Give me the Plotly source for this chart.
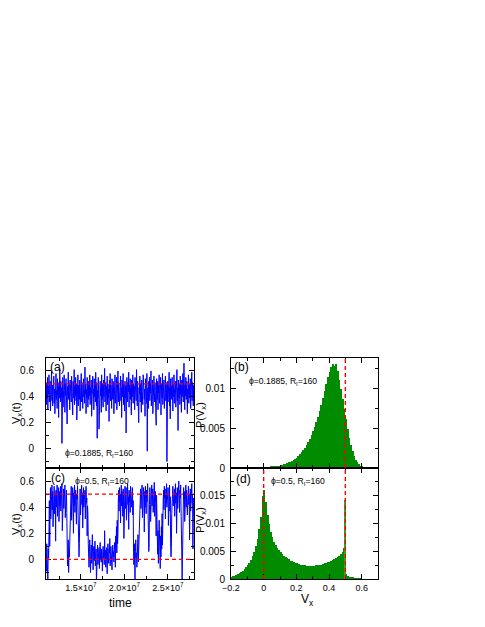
import plotly.graph_objects as go

W, H = 485, 627

# ---- data ----
# (a) phi=0.1885 : Vx(t)
vx_a = [
    0.46, 0.34, 0.51, 0.39, 0.55, 0.30, 0.48, 0.42, 0.57, 0.36, 0.44, 0.52, 0.29, 0.47, 0.40, 0.60, 0.37, 0.49, 0.33, 0.53,
    0.41, 0.56, 0.35, 0.46, 0.27, 0.50, 0.43, 0.58, 0.38, 0.45, 0.31, 0.54, 0.42, 0.48, 0.24, 0.51, 0.39, 0.62, 0.44, 0.36,
    0.52, 0.40, 0.47, 0.04, 0.43, 0.55, 0.32, 0.49, 0.37, 0.57, 0.45, 0.28, 0.50, 0.41, 0.54, 0.35, 0.46, 0.19, 0.48, 0.42,
    0.59, 0.38, 0.51, 0.44, 0.30, 0.53, 0.40, 0.47, 0.36, 0.56, 0.43, 0.49, 0.26, 0.52, 0.39, 0.45, 0.61, 0.34, 0.48, 0.41,
    0.55, 0.37, 0.50, 0.22, 0.46, 0.42, 0.57, 0.33, 0.49, 0.44, 0.38, 0.53, 0.29, 0.47, 0.41, 0.58, 0.36, 0.51, 0.43, 0.31,
    0.48, 0.54, 0.40, 0.45, 0.35, 0.63, 0.42, 0.50, 0.27, 0.46, 0.39, 0.55, 0.44, 0.32, 0.52, 0.38, 0.49, 0.41, 0.57, 0.34,
    0.47, 0.43, 0.53, 0.25, 0.50, 0.37, 0.56, 0.42, 0.46, 0.30, 0.54, 0.40, 0.48, 0.36, 0.59, 0.44, 0.33, 0.51, 0.08, 0.45,
    0.39, 0.55, 0.43, 0.15, 0.49, 0.35, 0.52, 0.41, 0.46, 0.28, 0.57, 0.38, 0.50, 0.44, 0.32, 0.53, 0.40, 0.47, 0.62, 0.36,
    0.45, 0.51, 0.29, 0.48, 0.42, 0.56, 0.34, 0.50, 0.39, 0.46, 0.21, 0.53, 0.43, 0.58, 0.37, 0.49, 0.41, 0.31, 0.54, 0.44,
    0.38, 0.52, 0.46, 0.27, 0.50, 0.40, 0.57, 0.35, 0.48, 0.43, 0.55, 0.30, 0.47, 0.41, 0.60, 0.36, 0.51, 0.44, 0.33, 0.49,
    0.42, 0.56, 0.37, 0.47, 0.24, 0.53, 0.40, 0.45, 0.58, 0.34, 0.50, 0.43, 0.29, 0.52, 0.39, 0.48, 0.12, 0.46, 0.55, 0.41,
    0.36, 0.51, 0.44, 0.59, 0.32, 0.49, 0.42, 0.54, 0.38, 0.47, 0.26, 0.53, 0.45, 0.40, 0.57, 0.35, 0.50, 0.43, 0.48, 0.30,
    0.55, 0.41, 0.46, 0.37, 0.61, 0.44, 0.33, 0.52, 0.39, 0.49, 0.20, 0.47, 0.42, 0.56, 0.36, 0.50, 0.45, 0.28, 0.53, 0.40,
    0.48, 0.34, 0.57, 0.43, 0.51, 0.38, 0.46, 0.25, 0.54, 0.41, 0.49, 0.35, 0.58, -0.02, 0.44, 0.47, 0.31, 0.52, 0.40, 0.55,
    0.37, 0.50, 0.43, 0.60, 0.33, 0.48, 0.42, 0.53, 0.27, 0.46, 0.39, 0.56, 0.44, 0.36, 0.51, 0.41, 0.47, 0.18, 0.54, 0.45,
    0.38, 0.52, 0.30, 0.49, 0.43, 0.57, 0.35, 0.47, 0.41, 0.55, 0.26, 0.50, 0.44, 0.39, 0.58, 0.34, 0.48, 0.42, 0.53, 0.31,
    0.46, 0.40, 0.56, 0.37, 0.51, 0.43, -0.10, 0.45, 0.52, 0.36, 0.49, 0.41, 0.59, 0.33, 0.47, 0.23, 0.54, 0.42, 0.48, 0.38,
    0.55, 0.44, 0.29, 0.50, 0.40, 0.57, 0.35, 0.46, 0.43, 0.52, 0.32, 0.49, 0.41, 0.61, 0.37, 0.47, 0.14, 0.53, 0.45, 0.39,
    0.50, 0.34, 0.56, 0.42, 0.48, 0.28, 0.53, 0.40, 0.45, 0.58, 0.36, 0.51, 0.66, 0.43, 0.30, 0.49, 0.41, 0.55, 0.38, 0.47,
    0.52, 0.27, 0.46, 0.42, 0.57, 0.35, 0.50, 0.44, 0.39, 0.54, 0.31, 0.48, 0.43, 0.59, 0.37, 0.51, 0.45, 0.33, 0.49, 0.41,
]

# (c) phi=0.5 : Vx(t), switching between ~0 and ~0.5
vx_c = [
    0.03, -0.09, 0.12, -0.02, 0.06, -0.17, 0.08, 0.01, 0.20, 0.45, 0.10,
    0.42, 0.55, 0.31, 0.50, 0.46, 0.57, 0.38, 0.52, 0.25, 0.48, 0.44, 0.56, 0.35, 0.51, 0.47, 0.14, 0.53, 0.40, 0.49, 0.57,
    0.33, 0.50, 0.45, 0.55, 0.29, 0.47, 0.52, 0.41, 0.56, 0.37, 0.49, 0.43, 0.58, 0.22, 0.51, 0.46, 0.54, 0.39, 0.48, 0.44,
    0.57, 0.32, 0.50, 0.45, 0.53, 0.36,
    0.10, -0.05, 0.04, 0.15, -0.10, 0.06, 0.02, 0.18,
    0.38, 0.52, 0.46, 0.56, 0.30, 0.49, 0.43, 0.55, 0.47, 0.20, 0.51, 0.41, 0.57, 0.36, 0.48, 0.53, 0.44, 0.27, 0.50, 0.46,
    0.56, 0.39, 0.52, 0.08, 0.02, 0.12, 0.45, 0.54, 0.34, 0.49, 0.47, 0.57, 0.42, 0.51, 0.24, 0.48, 0.55, 0.40, 0.50, 0.45,
    0.53, 0.31, 0.49, 0.56, 0.43, 0.47, 0.18, 0.41, 0.35,
    0.12, 0.03, -0.06, 0.08, 0.15, 0.01, -0.10, 0.05, 0.11, -0.03, 0.07, 0.19, 0.02, -0.08, 0.06, 0.10, -0.01, 0.04, 0.14, -0.05,
    0.03, 0.08, -0.18, 0.06, 0.01, 0.11, -0.04, 0.05, 0.02, 0.09, -0.07, 0.04, 0.13, 0.00, 0.06, -0.02, 0.08, 0.03, -0.09, 0.05,
    0.10, 0.01, 0.06, -0.04, 0.22, 0.03, 0.07, -0.06, 0.02, 0.09, 0.04, -0.11, 0.06, 0.12, 0.01, -0.03, 0.08, 0.05, 0.16, -0.05,
    0.03, 0.10, 0.00, 0.07, -0.08, 0.04, 0.11, 0.02, 0.06, -0.02, 0.09, 0.13, 0.04, -0.06, 0.18, 0.08, 0.25, 0.05, 0.30, 0.12,
    0.20,
    0.46, 0.53, 0.37, 0.55, 0.44, 0.50, 0.28, 0.48, 0.57, 0.41, 0.52, 0.45, 0.33, 0.54, 0.47, 0.16, 0.50, 0.43, 0.56, 0.39,
    0.49, 0.55, 0.30, 0.51, 0.46, 0.58, 0.42, 0.48, 0.23, 0.53, 0.44, 0.50, 0.36, 0.56, 0.47, 0.52, 0.40, 0.49, 0.55, 0.34,
    0.45,
    0.08, -0.04, 0.12, 0.02, -0.16, 0.06, 0.15, 0.01, 0.05, -0.06, 0.10, 0.03, 0.19, -0.02, 0.07, 0.04, 0.14, 0.28,
    0.47, 0.54, 0.39, 0.51, 0.45, 0.57, 0.32, 0.49, 0.43, 0.55, 0.48, 0.21, 0.52, 0.40, 0.56, 0.46, 0.35, 0.53, 0.44, 0.50,
    0.58, 0.38, 0.47, 0.06, 0.10, 0.42, 0.55, 0.49, 0.29, 0.51, 0.45, 0.57, 0.41, 0.48, 0.54, 0.36, 0.50, 0.44, 0.59, 0.33,
    0.47, 0.52, 0.43, 0.18, 0.49, 0.40,
    0.15, 0.04, 0.22, -0.03, 0.10, 0.30, 0.06, 0.12, -0.07, 0.18, 0.02, 0.25, 0.08, 0.35, 0.11, 0.28,
    0.45, 0.53, 0.38, 0.56, 0.47, 0.50, 0.31, 0.54, 0.43, 0.58, 0.40, 0.49, 0.46, 0.55, 0.26, 0.51, 0.44, 0.57, 0.37, 0.48,
    0.12, 0.02, 0.09, 0.35, 0.52, 0.45, 0.56, 0.41, 0.50, 0.47, 0.54, 0.33, 0.49, 0.58, 0.43, 0.51, 0.20, 0.46, 0.55, 0.39,
    0.52, 0.44, 0.60, 0.48, 0.36, 0.53, 0.47, 0.57, 0.42, 0.50, 0.05, -0.16, 0.10, 0.01, 0.38, 0.55, 0.46, 0.52, 0.29, 0.49,
    0.44, 0.57, 0.40, 0.53, 0.48, 0.34, 0.51, 0.45, 0.56, 0.42, 0.50, 0.15, 0.47, 0.54, 0.37, 0.52, 0.46, 0.58, 0.43, 0.49,
    0.08, 0.30, 0.47, 0.41,
]
t_start, t_end = 1.1e7, 2.8e7
time_ticks = [1.5e7, 2.0e7, 2.5e7]
time_tick_text = ["1.5×10<sup>7</sup>", "2.0×10<sup>7</sup>", "2.5×10<sup>7</sup>"]

# histograms, bins 0.01 wide starting at -0.2
bin_first = -0.195
bin_width = 0.01
p_b = [
    0, 0, 0, 0, 0, 0, 0, 0, 0, 0, 0, 0, 0, 0, 0,
    0.00001, 0.00002, 0.00003, 0.00004, 0.00005,
    0.00006, 0.00008, 0.0001, 0.00012, 0.00014,
    0.00017, 0.0002, 0.00023, 0.00027, 0.00031,
    0.00036, 0.00041, 0.00047, 0.00054, 0.00062,
    0.0007, 0.0008, 0.0009, 0.00102, 0.00115,
    0.0013, 0.0015, 0.0017, 0.00195, 0.0022,
    0.0025, 0.0029, 0.0033, 0.0037, 0.0042,
    0.0047, 0.0052, 0.0058, 0.0064, 0.0071,
    0.0079, 0.0088, 0.0097, 0.0106, 0.0114,
    0.0121, 0.0127, 0.0131, 0.0128, 0.0130,
    0.0122, 0.0111, 0.0099, 0.0086, 0.0074,
    0.0061, 0.0049, 0.0038, 0.0029, 0.0021,
    0.0015, 0.001, 0.0007, 0.00045, 0.0003,
    0.0002, 0.00012, 0.00008, 0.00005, 0.00003,
    0.00002, 0.00001, 0, 0, 0,
]
p_d = [
    0.0003, 0.0005, 0.0006, 0.0008, 0.0009,
    0.0011, 0.0013, 0.0015, 0.0018, 0.0021,
    0.0025, 0.0029, 0.0034, 0.0041, 0.0049,
    0.0059, 0.0072, 0.0089, 0.0112, 0.0148,
    0.0159, 0.0138, 0.0115, 0.0098, 0.0085,
    0.0075, 0.0067, 0.0061, 0.0056, 0.0052,
    0.0048, 0.0045, 0.0042, 0.0040, 0.0037,
    0.0035, 0.0033, 0.0032, 0.0030, 0.0029,
    0.0028, 0.0027, 0.0026, 0.0026, 0.0025,
    0.0025, 0.0024, 0.0024, 0.0024, 0.0024,
    0.0024, 0.0024, 0.0025, 0.0025, 0.0026,
    0.0026, 0.0027, 0.0028, 0.0029, 0.0030,
    0.0031, 0.0032, 0.0034, 0.0035, 0.0037,
    0.0039, 0.0042, 0.0045, 0.0049, 0.0056,
    0.0009, 0.0006, 0.0004, 0.0003, 0.0002,
    0.00012, 0.00008, 0.00005, 0.00003, 0.00002,
    0, 0, 0, 0, 0, 0, 0, 0, 0, 0,
]
spike_x = [0.5]
spike_p = [0.0141]

ref_a = [0.5]
ref_c = [0.0, 0.5]
ref_b = [0.5]
ref_d = [0.0, 0.5]

BLUE = "rgb(0,0,255)"
GREEN = "#008b00"
RED = "rgb(255,0,0)"
FONT = "Liberation Sans, Arial, sans-serif"
OFF = 8  # page body margin


def px(x):
    return (x - OFF) / W


def py(y):
    return 1 - (y - OFF) / H


XL = [px(46), px(194)]
XR = [px(231), px(378)]
YT = [py(468), py(358)]
YB = [py(579), py(468)]

fig = go.Figure()

fig.add_trace(go.Scatter(y=vx_a, x0=t_start, dx=(t_end - t_start) / (len(vx_a) - 1),
                         mode="lines", line=dict(color=BLUE, width=1),
                         xaxis="x", yaxis="y", showlegend=False))
fig.add_trace(go.Bar(y=p_b, x0=bin_first, dx=bin_width, width=bin_width,
                     marker=dict(color=GREEN, line=dict(width=0)),
                     xaxis="x2", yaxis="y2", showlegend=False))
fig.add_trace(go.Scatter(y=vx_c, x0=t_start, dx=(t_end - t_start) / (len(vx_c) - 1),
                         mode="lines", line=dict(color=BLUE, width=1),
                         xaxis="x3", yaxis="y3", showlegend=False))
fig.add_trace(go.Bar(y=p_d, x0=bin_first, dx=bin_width, width=bin_width,
                     marker=dict(color=GREEN, line=dict(width=0)),
                     xaxis="x4", yaxis="y4", showlegend=False))
fig.add_trace(go.Bar(x=spike_x, y=spike_p, width=0.005,
                     marker=dict(color="#2aa52a", line=dict(width=0)),
                     xaxis="x4", yaxis="y4", showlegend=False))

# red dashed reference lines
dash = dict(color=RED, width=1.4, dash="4px,3px")
for v in ref_a:
    fig.add_shape(type="line", xref="x domain", x0=0, x1=1, yref="y", y0=v, y1=v, line=dash)
for v in ref_c:
    fig.add_shape(type="line", xref="x3 domain", x0=0, x1=1, yref="y3", y0=v, y1=v, line=dash)
for v in ref_b:
    fig.add_shape(type="line", yref="y2 domain", y0=0, y1=1, xref="x2", x0=v, x1=v, line=dash)
for v in ref_d:
    fig.add_shape(type="line", yref="y4 domain", y0=0, y1=1, xref="x4", x0=v, x1=v, line=dash)


def ax(**kw):
    d = dict(showline=True, linecolor="black", linewidth=1, mirror="allticks",
             ticks="inside", ticklen=5, tickwidth=1, tickcolor="black",
             showgrid=False, zeroline=False, automargin=False,
             tickfont=dict(size=10, color="black", family=FONT))
    d.update(kw)
    return d


def minor(step):
    return dict(ticks="inside", ticklen=3, dtick=step, tick0=0, tickcolor="black")


fig.update_layout(
    width=W, height=H,
    margin=dict(l=0, r=0, t=0, b=0),
    template="none",
    paper_bgcolor="white", plot_bgcolor="white",
    font=dict(family=FONT, color="black"),
    barmode="overlay", bargap=0,
    showlegend=False,
    xaxis=ax(domain=XL, anchor="y", range=[t_start, t_end], tickvals=time_ticks,
             showticklabels=False, minor=minor(2.5e6)),
    yaxis=ax(domain=YT, anchor="x", range=[-0.15, 0.7], dtick=0.2, tick0=0,
             ticklabelstandoff=9, minor=minor(0.1)),
    xaxis2=ax(domain=XR, anchor="y2", range=[-0.2, 0.7], dtick=0.2, tick0=0,
              showticklabels=False, minor=minor(0.1)),
    yaxis2=ax(domain=YT, anchor="x2", range=[0, 0.0138], dtick=0.005, tick0=0,
              ticklabelstandoff=3, minor=minor(0.0025)),
    xaxis3=ax(domain=XL, anchor="y3", range=[t_start, t_end], tickvals=time_ticks,
              ticktext=time_tick_text, tickfont=dict(size=9, color="black", family=FONT),
              minor=minor(2.5e6)),
    yaxis3=ax(domain=YB, anchor="x3", range=[-0.15, 0.7], dtick=0.2, tick0=0,
              ticklabelstandoff=9, minor=minor(0.1)),
    xaxis4=ax(domain=XR, anchor="y4", range=[-0.2, 0.7], dtick=0.2, tick0=0,
              tickfont=dict(size=9, color="black", family=FONT), minor=minor(0.1)),
    yaxis4=ax(domain=YB, anchor="x4", range=[0, 0.0199], dtick=0.005, tick0=0,
              ticklabelstandoff=3, minor=minor(0.0025)),
)

notes = [
    ("(a)", 48, 358, "left", "top", 12, 0),
    ("(b)", 232, 358, "left", "top", 12, 0),
    ("(c)", 49, 469, "left", "top", 12, 0),
    ("(d)", 234, 470, "left", "top", 12, 0),
    ("ϕ=0.1885, R<sub>I</sub>=160", 63, 453, "left", "middle", 8.6, 0),
    ("ϕ=0.1885, R<sub>I</sub>=160", 247, 381, "left", "middle", 8.6, 0),
    ("ϕ=0.5, R<sub>I</sub>=160", 73, 482, "left", "middle", 8.6, 0),
    ("ϕ=0.5, R<sub>I</sub>=160", 269, 482, "left", "middle", 8.6, 0),
    ("V<sub>x</sub>(t)", 17, 413, "center", "middle", 11, -90),
    ("V<sub>x</sub>(t)", 17, 524, "center", "middle", 11, -90),
    ("P(V<sub>x</sub>)", 201, 415, "center", "middle", 11, -90),
    ("P(V<sub>x</sub>)", 201, 520, "center", "middle", 11, -90),
    ("time", 120, 603, "center", "middle", 12, 0),
    ("V<sub>x</sub>", 307, 600, "center", "middle", 12, 0),
]
for text, x, y, xa, ya, size, ang in notes:
    fig.add_annotation(text=text, x=px(x), y=py(y), xref="paper", yref="paper",
                       xanchor=xa, yanchor=ya, showarrow=False, textangle=ang,
                       font=dict(size=size, color="black", family=FONT))

fig.write_html("out.html")
